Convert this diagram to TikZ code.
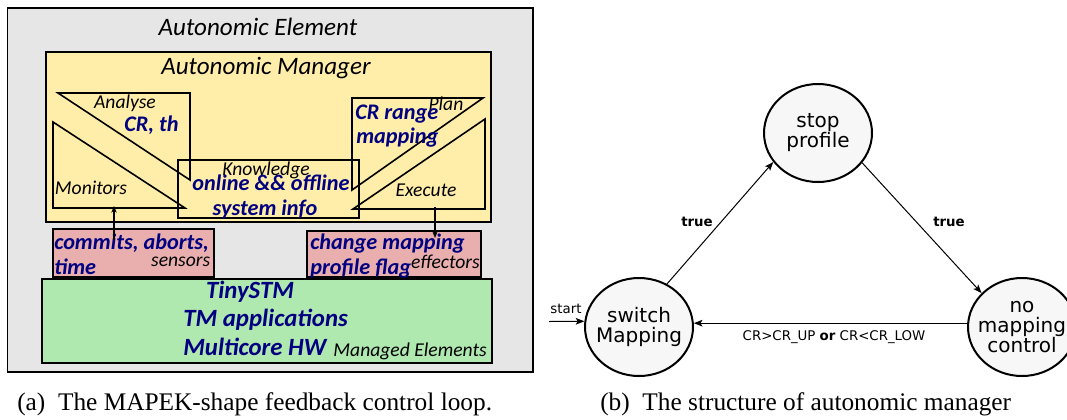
\documentclass[tikz,border=0pt]{standalone}
\usepackage{fontspec}
\setmainfont{Liberation Serif}
\newfontfamily\carfont{Carlito}
\newfontfamily\dvfont{DejaVu Sans}
\usetikzlibrary{arrows.meta,shapes.geometric,fit}
\definecolor{aegray}{HTML}{E6E6E6}
\definecolor{amyellow}{HTML}{FFEEAA}
\definecolor{sepink}{HTML}{E9AFAF}
\definecolor{megreen}{HTML}{AFE9AF}
\definecolor{navytxt}{HTML}{000080}
\definecolor{statefill}{HTML}{F7F7F7}
\begin{document}
\begin{tikzpicture}[x=0.75pt,y=-0.75pt,
  frame/.style={draw=black, line width=1.2pt, inner sep=0pt},
  shp/.style={draw=black, line width=1.2pt, line join=miter},
  lbl/.style={inner sep=0pt, font=\carfont\itshape\fontsize{14.7}{17}\selectfont},
  ttl/.style={inner sep=0pt, font=\carfont\itshape\fontsize{18.8}{22}\selectfont},
  bluetxt/.style={inner sep=0pt, text=navytxt, font=\carfont\bfseries\itshape\fontsize{16.7}{19}\selectfont},
  bigblue/.style={inner sep=0pt, text=navytxt, font=\carfont\bfseries\itshape\fontsize{18.6}{22}\selectfont},
  sarrow/.style={line width=0.9pt, -{Stealth[length=5pt,width=4pt]}},
  state/.style={ellipse, draw=black, line width=1.5pt, fill=statefill, inner sep=0pt,
    minimum width=81pt, minimum height=73.5pt},
  statetxt/.style={inner sep=0pt, align=center, font=\dvfont\fontsize{15}{15}\selectfont},
  tarrow/.style={line width=0.75pt, -{Stealth[length=6.5pt,width=5pt,inset=1.5pt]}},
  smalldv/.style={inner sep=0pt, font=\dvfont\fontsize{10}{12}\selectfont},
  captxt/.style={inner sep=0pt, font=\fontsize{19}{22}\selectfont}
]
\clip (0,0) rectangle (1067,419);
\fill[white] (0,0) rectangle (1067,419);

% ---------- (a) MAPEK ----------
\node[frame, fill=aegray, fit={(7.5,8) (533,372)}] (ae) {};
\node[ttl, anchor=base] (aet) at (258,35.5) {Autonomic Element};
\node[frame, fill=amyellow, fit={(46,52) (491,222)}] (am) {};
\node[ttl, anchor=base] (amt) at (266,74) {Autonomic Manager};

% triangles
\draw[shp] (58,93) -- (190,93) -- (190,180) -- cycle;
\draw[shp] (53,122) -- (53,208) -- (185,208) -- cycle;
\draw[shp] (352,98) -- (483,98) -- (352,190) -- cycle;
\draw[shp] (485,119) -- (485,209) -- (353,209) -- cycle;
\node[draw=black, line width=1.2pt, inner sep=0pt, fit={(178,160) (359,218)}] (kn) {};

\node[lbl, anchor=base] (an) at (125,108) {Analyse};
\node[bluetxt, anchor=base] (crth) at (151.5,131.5) {CR, th};
\node[lbl, anchor=base] (mo) at (91,194) {Monitors};
\node[lbl, anchor=base] (knt) at (266,175) {Knowledge};
\node[bluetxt, anchor=base] (onl) at (271,190) {online \&\& offline};
\node[bluetxt, anchor=base] (sys) at (265,215) {system info};
\node[lbl, anchor=base] (pl) at (446,110.5) {Plan};
\node[bluetxt, anchor=base west] (crr) at (355,119) {CR range};
\node[bluetxt, anchor=base west] (map) at (356,143) {mapping};
\node[lbl, anchor=base] (ex) at (426,196.5) {Execute};

% sensors / effectors
\node[frame, fill=sepink, fit={(53,229) (214,277)}] (se) {};
\node[bluetxt, anchor=base west] (com) at (54,249) {commits, aborts,};
\node[bluetxt, anchor=base west] (tim) at (54,274) {time};
\node[lbl, anchor=base east] (sel) at (210.5,266.5) {sensors};
\node[frame, fill=sepink, fit={(307,231) (481,277)}] (ef) {};
\node[bluetxt, anchor=base west] (chm) at (310,249) {change mapping};
\node[bluetxt, anchor=base west] (prf) at (310,274) {profile flag};
\node[lbl, anchor=base east] (efl) at (480,268) {effectors};

% managed elements
\node[frame, fill=megreen, fit={(42,279) (492,363)}] (me) {};
\node[bigblue, anchor=base] (tiny) at (250,298) {TinySTM};
\node[bigblue, anchor=base west] (tma) at (183,326) {TM applications};
\node[bigblue, anchor=base west] (mhw) at (183,355) {Multicore HW};
\node[lbl, anchor=base east] (mel) at (487,356.5) {Managed Elements};

% arrows
\coordinate (sa) at (114,240);
\coordinate (sb) at (114,206);
\draw[sarrow] (sa) -- (sb);
\coordinate (ea) at (435,207);
\coordinate (eb) at (435,238);
\draw[sarrow] (ea) -- (eb);

\node[captxt, anchor=base west] (capa) at (17,410) {(a)\hspace{0.5em}The MAPEK-shape feedback control loop.};

% ---------- (b) state machine ----------
\node[state] (stop) at (818,133) {};
\node[statetxt] (stopt) at (stop.center) {stop\\profile};
\node[state] (sw) at (639,327) {};
\node[statetxt] (swt) at (sw.center) {switch\\Mapping};
\node[state] (nm) at (1022,327) {};
\node[statetxt] (nmt) at (nm.center) {no\\mapping\\control};

\coordinate (st) at (549,321.5);
\draw[tarrow] (st) -- (sw.174);
\node[smalldv, anchor=base] (stl) at (566,313) {start};
\draw[tarrow] (sw.57) -- (stop.213);
\draw[tarrow] (stop.326) -- (nm.140);
\draw[tarrow] (nm.176) -- (sw.4);
\node[smalldv, anchor=base, font=\dvfont\bfseries\fontsize{10}{12}\selectfont] (t1) at (697,226.5) {true};
\node[smalldv, anchor=base, font=\dvfont\bfseries\fontsize{10}{12}\selectfont] (t2) at (949,226.5) {true};
\node[smalldv, anchor=base] (crl) at (834,340) {CR>CR\_UP \textbf{or} CR<CR\_LOW};

\node[captxt, anchor=base west] (capb) at (600,410) {(b)\hspace{0.5em}The structure of autonomic manager};
\end{tikzpicture}
\end{document}
